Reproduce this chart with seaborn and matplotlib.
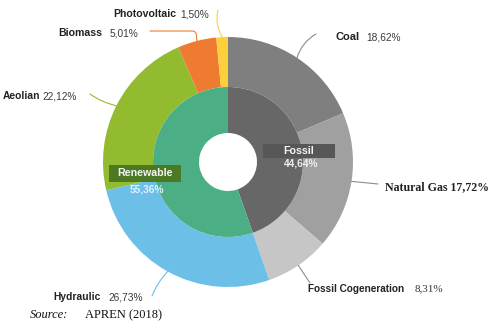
import matplotlib
matplotlib.use("Agg")
import numpy as np
import seaborn as sns
import matplotlib.pyplot as plt
from matplotlib.patches import Rectangle

# data
sources = ["Coal", "Natural Gas", "Fossil Cogeneration", "Hydraulic",
           "Aeolian", "Biomass", "Photovoltaic"]
shares = [18.62, 17.72, 8.31, 26.73, 22.12, 5.01, 1.50]
groups = ["Fossil", "Renewable"]
group_shares = [44.64, 55.36]

outer_colors = ["#7f7f7f", "#a0a0a0", "#c6c6c6", "#6cc0e8",
                "#93bb2f", "#ee7b30", "#fdd03b"]
inner_colors = ["#676767", "#4cae85"]

sns.set_style("white")
plt.rcParams["font.family"] = ["Liberation Sans", "DejaVu Sans"]

W, H = 489, 323
fig = plt.figure(figsize=(W / 100, H / 100), dpi=100)
ax = fig.add_axes([0, 0, 1, 1])


def P(x, y):
    # pixel coords (top-left origin) -> data coords
    return (x, H - y)


cx, cy = P(228, 162)
R_out, R_mid, R_in = 125, 75, 29

wedges, _ = ax.pie(shares, colors=outer_colors, startangle=90, counterclock=False,
                   radius=R_out, center=(cx, cy),
                   wedgeprops=dict(width=R_out - R_mid, linewidth=0))
ax.pie(group_shares, colors=inner_colors, startangle=90, counterclock=False,
       radius=R_mid, center=(cx, cy),
       wedgeprops=dict(width=R_mid - R_in, linewidth=0))

ax.set_xlim(0, W)
ax.set_ylim(0, H)
ax.set_aspect("equal")
ax.axis("off")

# leader line end (pixel), connection style, label placement, font size
labels = {
    "Coal": dict(end=(316, 34), conn="arc3,rad=0.2", name=(335, 37), pct=(366, 37), fs=8),
    "Natural Gas": dict(end=(378, 184), conn="arc3,rad=0", name=(385, 187), pct=None, fs=8.6),
    "Fossil Cogeneration": dict(end=(310, 283), conn="arc3,rad=0", name=(308, 289), pct=(415, 289), fs=7.2),
    "Hydraulic": dict(end=(152, 296), conn="arc3,rad=-0.1", name=(53, 297), pct=(108, 297), fs=7.4),
    "Aeolian": dict(end=(90, 94), conn="arc3,rad=0.1", name=(3, 96), pct=(42, 96), fs=7.4),
    "Biomass": dict(end=(150, 31), conn="angle,angleA=0,angleB=95,rad=4", name=(58, 33), pct=(110, 33), fs=7.6),
    "Photovoltaic": dict(end=(218, 10), conn="arc3,rad=0.2", name=(113, 14), pct=(180, 14), fs=7.6),
}

for w, src, val, col in zip(wedges, sources, shares, outer_colors):
    spec = labels[src]
    ang = np.deg2rad((w.theta1 + w.theta2) / 2)
    start = (cx + R_out * np.cos(ang), cy + R_out * np.sin(ang))
    lc = "#8c8c8c" if col in outer_colors[:3] else col
    ax.annotate("", xy=start, xytext=P(*spec["end"]),
                arrowprops=dict(arrowstyle="-", color=lc, lw=0.8,
                                connectionstyle=spec["conn"], shrinkA=0, shrinkB=0))
    pct = f"{val:.2f}%".replace(".", ",")
    if src == "Natural Gas":
        ax.text(*P(*spec["name"]), f"{src} {pct}", fontsize=spec["fs"], fontweight="bold",
                family=["Liberation Serif"], color="#222222", va="center", ha="left")
    else:
        ax.text(*P(*spec["name"]), src, fontsize=spec["fs"], fontweight="bold",
                color="#222222", va="center", ha="left")
        if src == "Fossil Cogeneration":
            ax.text(*P(*spec["pct"]), pct, fontsize=8, family=["Liberation Serif"],
                    color="#333333", va="center", ha="left")
        else:
            ax.text(*P(*spec["pct"]), pct, fontsize=7.3, color="#3a3a3a",
                    va="center", ha="left")

# group labels inside the inner ring
boxes = [
    ("Fossil", group_shares[0], (263, 144, 72, 14), "#575757", "#eeeeee", (299, 151), (301, 163)),
    ("Renewable", group_shares[1], (109, 165, 72, 17), "#4b7a22", "#e3f1fb", (145, 173), (147, 189)),
]
for name, val, (bx, by, bw, bh), bcol, pcol, npos, ppos in boxes:
    ax.add_patch(Rectangle(P(bx, by + bh), bw, bh, facecolor=bcol, edgecolor="none"))
    ax.text(*P(*npos), name, fontsize=7.7, fontweight="bold", color="#f4f4f4",
            va="center", ha="center")
    ax.text(*P(*ppos), f"{val:.2f}%".replace(".", ","), fontsize=7.3, fontweight="bold",
            color=pcol, va="center", ha="center")

# source note
ax.text(*P(30, 315), "Source:", fontsize=9, style="italic",
        family=["Liberation Serif"], color="#111111", va="center", ha="left")
ax.text(*P(85, 315), "APREN (2018)", fontsize=9,
        family=["Liberation Serif"], color="#111111", va="center", ha="left")

fig.savefig("out.png", dpi=100)
